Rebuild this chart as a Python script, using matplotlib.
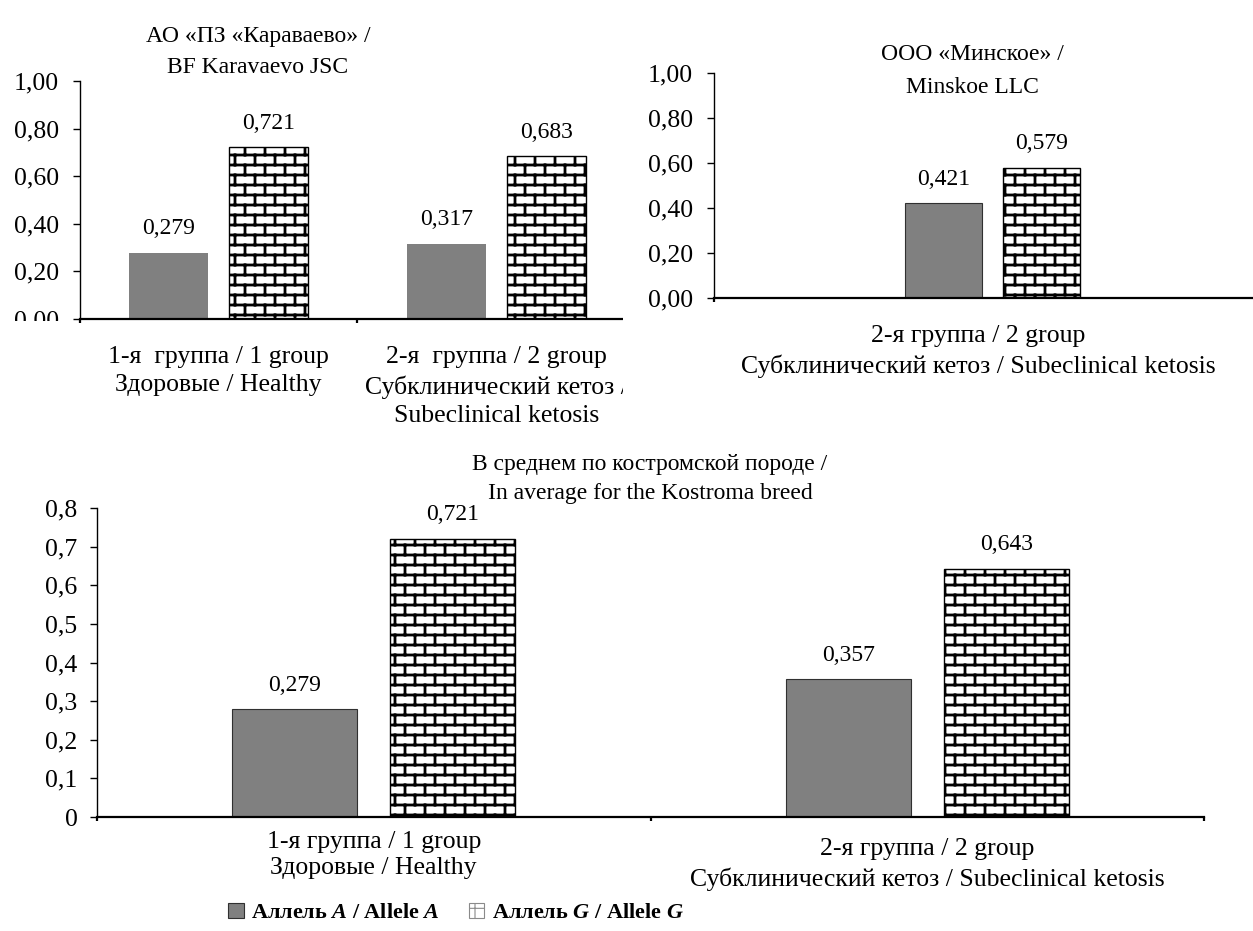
import warnings
import numpy as np
import matplotlib
matplotlib.use("Agg")
import matplotlib.pyplot as plt
from matplotlib import hatch as mhatch
from matplotlib.path import Path
from matplotlib.patches import Patch, Rectangle
from matplotlib.transforms import Bbox, TransformedBbox

warnings.filterwarnings("ignore", message="hatch must consist")

# ---------------------------------------------------------------- data
farm1_title = "АО «ПЗ «Караваево» /\nBF Karavaevo JSC"
farm1_groups = ["1-я  группа / 1 group\nЗдоровые / Healthy",
                "2-я  группа / 2 group\nСубклинический кетоз /\nSubeclinical ketosis"]
farm1_allele_a = [0.279, 0.317]
farm1_allele_g = [0.721, 0.683]

farm2_title = "ООО «Минское» /\nMinskoe LLC"
farm2_groups = ["2-я группа / 2 group\nСубклинический кетоз / Subeclinical ketosis"]
farm2_allele_a = [0.421]
farm2_allele_g = [0.579]

breed_title = "В среднем по костромской породе /\nIn average for the Kostroma breed"
breed_groups = ["1-я группа / 1 group\nЗдоровые / Healthy",
                "2-я группа / 2 group\nСубклинический кетоз / Subeclinical ketosis"]
breed_allele_a = [0.279, 0.357]
breed_allele_g = [0.721, 0.643]

farm_yticks = [0.0, 0.2, 0.4, 0.6, 0.8, 1.0]
breed_yticks = [0.0, 0.1, 0.2, 0.3, 0.4, 0.5, 0.6, 0.7, 0.8]

legend_labels = ["Аллель $\\mathit{A}$ / Allele $\\mathit{A}$",
                 "Аллель $\\mathit{G}$ / Allele $\\mathit{G}$"]


# ------------------------------------------------------- brick hatch
class BrickHatch(mhatch.HatchPatternBase):
    """Running-bond brick pattern, selected with the 'b' hatch character."""

    def __init__(self, hatch, density):
        segs = []
        if 'b' in hatch:
            rows, cols = 10, 5
            h, w = 1.0 / rows, 1.0 / cols
            for r in range(rows):
                y = (r + 0.5) * h
                segs.append(((0.0, y), (1.0, y)))
                shift = w / 2 if r % 2 else 0.0
                for c in range(cols):
                    x = (c + 0.25) * w + shift
                    y1 = y + h
                    if y1 <= 1.0:
                        segs.append(((x, y), (x, y1)))
                    else:
                        segs.append(((x, y), (x, 1.0)))
                        segs.append(((x, 0.0), (x, y1 - 1.0)))
        self.segs = segs
        self.num_vertices = 2 * len(segs)

    def set_vertices_and_codes(self, vertices, codes):
        for i, (p0, p1) in enumerate(self.segs):
            vertices[2 * i] = p0
            vertices[2 * i + 1] = p1
        codes[0::2] = Path.MOVETO
        codes[1::2] = Path.LINETO


mhatch._hatch_types.append(BrickHatch)

# ------------------------------------------------------------- style
plt.rcParams['font.family'] = ['Liberation Serif', 'DejaVu Serif']
plt.rcParams['mathtext.fontset'] = 'custom'
plt.rcParams['mathtext.it'] = 'Liberation Serif:italic:bold'
plt.rcParams['mathtext.rm'] = 'Liberation Serif:bold'
plt.rcParams['hatch.linewidth'] = 2.0

GRAY = '#808080'
FS_TICK = 18.5
FS_VAL = 17
FS_CAT = 18.5
FS_TITLE = 17
W, H = 1253, 931
PT = 0.72  # points per pixel at 100 dpi

fig = plt.figure(figsize=(W / 100, H / 100), dpi=100)


def px_rect(left, top, right, bottom):
    return [left / W, 1 - bottom / H, (right - left) / W, (bottom - top) / H]


def comma(v, fmt):
    return format(v, fmt).replace('.', ',')


def draw_panel(ax, a_vals, g_vals, width, offset, yticks, ylim, tick_fmt,
               gray_edge, label_specs, value_gap_px=24):
    n = len(a_vals)
    x = np.arange(n)
    bars_a = ax.bar(x - offset, a_vals, width, color=GRAY,
                    edgecolor=gray_edge, linewidth=0.8 if gray_edge != 'none' else 0)
    bars_g = ax.bar(x + offset, g_vals, width, color='white',
                    edgecolor='black', linewidth=1.0, hatch='b')
    for b in bars_g:
        b.set_hatch_linewidth(2.0)
    for bars, vals in ((bars_a, a_vals), (bars_g, g_vals)):
        for b, v in zip(bars, vals):
            ax.annotate(comma(v, '.3f'), xy=(b.get_x() + b.get_width() / 2, v),
                        xytext=(0, value_gap_px * PT), textcoords='offset points',
                        ha='center', va='center', fontsize=FS_VAL)
    ax.set_xlim(-0.5, n - 0.5)
    ax.set_ylim(*ylim)
    ax.set_yticks(yticks)
    ax.set_yticklabels([comma(v, tick_fmt) if (v or tick_fmt != 'g') else '0'
                        for v in yticks], fontsize=FS_TICK)
    ax.set_xticks(np.arange(n + 1) - 0.5)
    ax.set_xticklabels([])
    ax.tick_params(axis='y', direction='out', length=5, width=1.0, pad=10)
    ax.tick_params(axis='x', direction='out', length=3, width=1.6)
    for s in ('top', 'right'):
        ax.spines[s].set_visible(False)
    ax.spines['left'].set_linewidth(1.0)
    ax.spines['bottom'].set_linewidth(1.6)
    for i, (text, dx_px, top_px, ls) in enumerate(label_specs):
        ax.annotate(text, xy=(i, 0), xycoords=('data', 'axes fraction'),
                    xytext=(dx_px * PT, -top_px * PT), textcoords='offset points',
                    ha='center', va='top', fontsize=FS_CAT, linespacing=ls,
                    annotation_clip=False)


# ---------------------------------------------------- top-left panel
ax1 = fig.add_axes(px_rect(80, 81, 635, 319), zorder=0)
draw_panel(ax1, farm1_allele_a, farm1_allele_g, width=0.285, offset=0.18,
           yticks=farm_yticks, ylim=(0, 1.0), tick_fmt='.2f', gray_edge='none',
           label_specs=[(farm1_groups[0], 0, 27, 1.38),
                        (farm1_groups[1], 0, 27, 1.38)])
# the lowest tick label is cut along the axis line
zero_lab = ax1.yaxis.get_major_ticks()[0].label1
zero_lab.set_clip_on(True)
zero_lab.set_clip_box(TransformedBbox(Bbox([[0, 1 - 320.5 / H], [1, 1]]), fig.transFigure))
fig.text(258 / W, 1 - 52 / H, farm1_title, ha='center', va='center', fontsize=FS_TITLE,
         linespacing=1.62)

# white chart area of the right panel overlapping the left one
fig.add_artist(Rectangle((623 / W, 1 - 425 / H), (W - 623) / W, 425 / H,
                         transform=fig.transFigure, facecolor='white',
                         edgecolor='none', zorder=0.5))

# --------------------------------------------------- top-right panel
ax2 = fig.add_axes(px_rect(714, 73, 1271, 298), zorder=1)
ax2.patch.set_alpha(0)
draw_panel(ax2, farm2_allele_a, farm2_allele_g, width=0.138, offset=0.088,
           yticks=farm_yticks, ylim=(0, 1.0), tick_fmt='.2f', gray_edge='#303030',
           label_specs=[(farm2_groups[0], -14, 27, 1.42)])
fig.text(972 / W, 1 - 71 / H, farm2_title, ha='center', va='center', fontsize=FS_TITLE,
         linespacing=1.72, zorder=4)

# ------------------------------------------------------ bottom panel
ax3 = fig.add_axes(px_rect(97, 508, 1204, 817), zorder=0)
draw_panel(ax3, breed_allele_a, breed_allele_g, width=0.226, offset=0.143,
           yticks=breed_yticks, ylim=(0, 0.8), tick_fmt='g', gray_edge='#303030',
           label_specs=[(breed_groups[0], 0, 14, 1.25),
                        (breed_groups[1], 0, 21, 1.42)])
ax3.tick_params(axis='y', pad=9)
fig.text(650 / W, 1 - 479 / H, breed_title, ha='center', va='center', fontsize=FS_TITLE,
         linespacing=1.45)

# ------------------------------------------------------------ legend
plt.rcParams['hatch.linewidth'] = 0.8
handles = [Patch(facecolor=GRAY, edgecolor='#303030', linewidth=0.8),
           Patch(facecolor='white', edgecolor='#8a8a8a', linewidth=0.8, hatch='+')]
fig.legend(handles, legend_labels, loc='center', bbox_to_anchor=(456 / W, 1 - 913 / H),
           ncol=2, frameon=False, prop={'weight': 'bold', 'size': 16},
           handlelength=0.7, handleheight=0.7, handletextpad=0.35, columnspacing=1.3)

fig.savefig('out.png', dpi=100, facecolor='white')
